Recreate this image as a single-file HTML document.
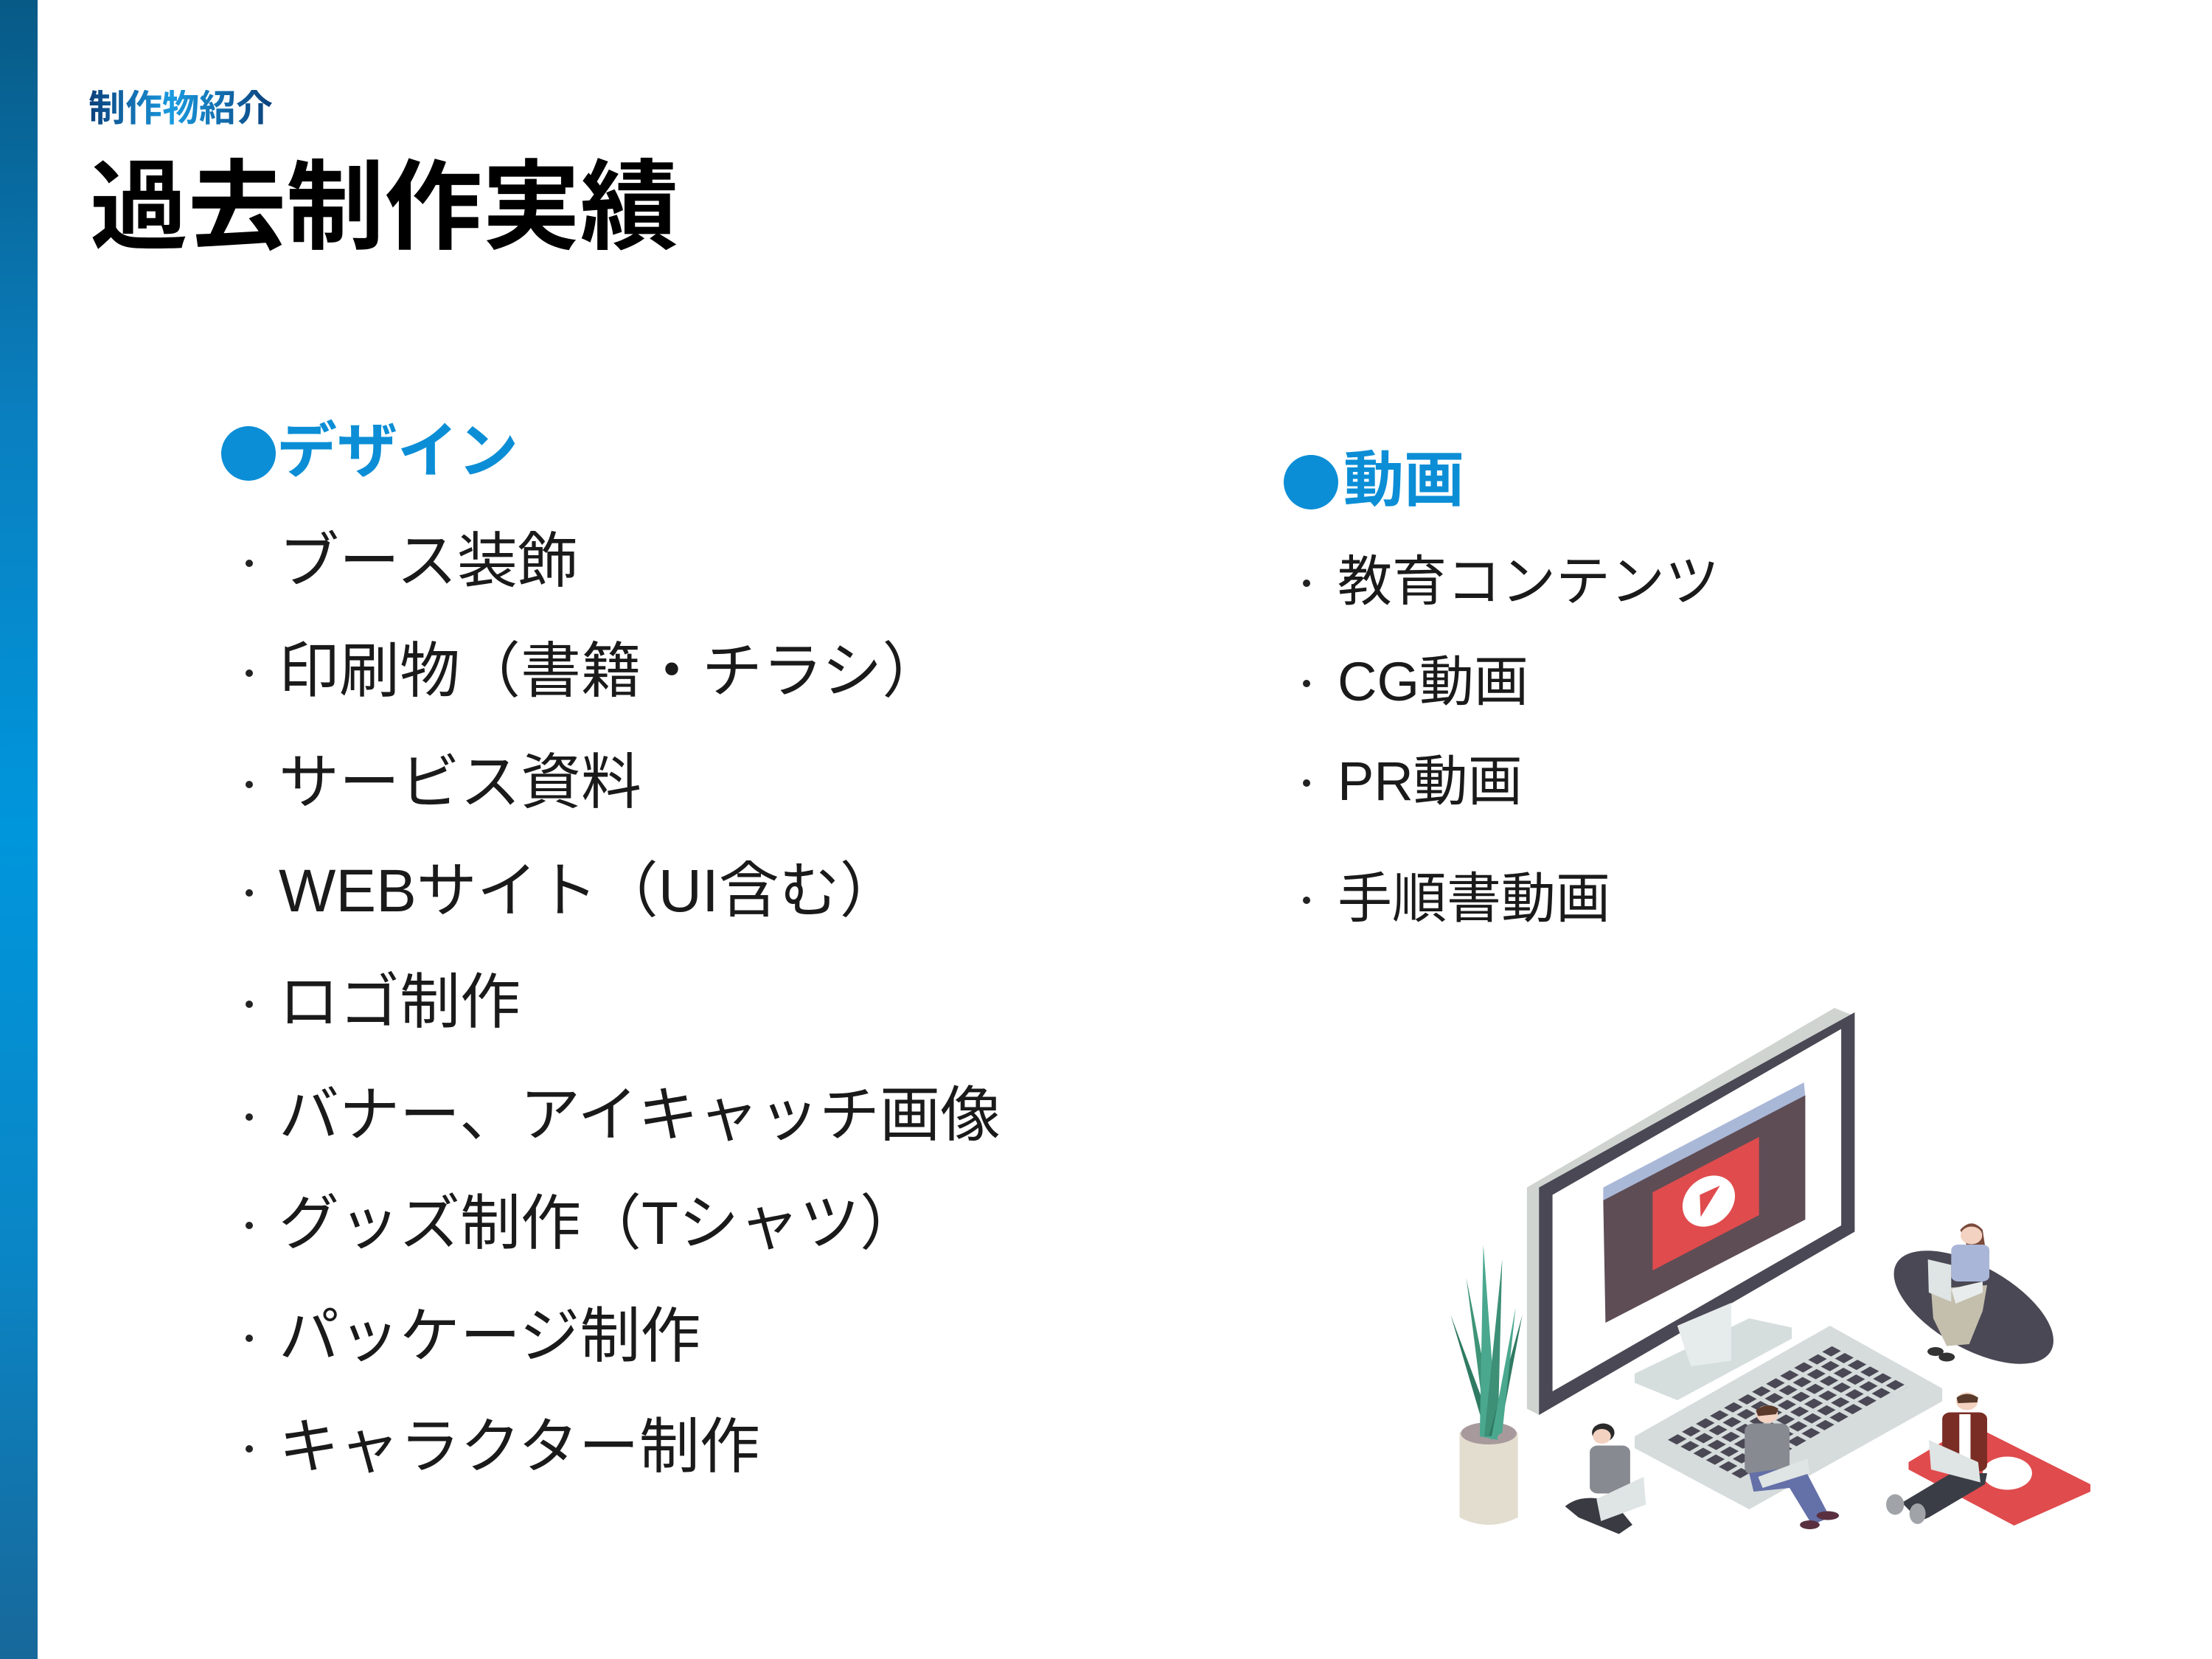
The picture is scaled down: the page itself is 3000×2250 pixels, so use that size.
<!DOCTYPE html>
<html><head><meta charset="utf-8"><style>
html,body{margin:0;padding:0;}
body{width:3000px;height:2250px;position:relative;background:#fff;overflow:hidden;font-family:"Liberation Sans","Noto Sans CJK JP",sans-serif;}
.bar{position:absolute;left:0;top:0;width:51px;height:2250px;background:linear-gradient(180deg,#075a86 0%,#0a7fbf 25%,#0096dc 50%,#0a86c6 75%,#17689a 100%);}
.t{position:absolute;white-space:nowrap;line-height:1;}
.sub{left:120px;top:122px;font-size:50px;font-weight:bold;background:linear-gradient(90deg,#0b3f7a 0%,#1a9be0 45%,#0b3f7a 100%);-webkit-background-clip:text;background-clip:text;color:transparent;}
.title{left:122px;top:216px;font-size:133px;font-weight:bold;color:#000;}
.h{font-weight:bold;color:#0b8ed6;font-size:82px;}
.dot{position:absolute;border-radius:50%;background:#0b8ed6;}
.li{font-size:82px;color:#1a1a1a;}
.ri{font-size:74px;color:#1a1a1a;}
.b{position:absolute;width:10px;height:10px;border-radius:50%;background:#222;}
</style></head><body>
<div class="bar"></div>
<div class="t sub">制作物紹介</div>
<div class="t title">過去制作実績</div>

<div class="dot" style="left:300px;top:578px;width:74px;height:74px;"></div>
<div class="t h" style="left:375px;top:572px;">デザイン</div>

<div class="b" style="left:333px;top:759px"></div><div class="t li" style="left:378px;top:721px">ブース装飾</div>
<div class="b" style="left:333px;top:908px"></div><div class="t li" style="left:378px;top:870px">印刷物（書籍・チラシ）</div>
<div class="b" style="left:333px;top:1059px"></div><div class="t li" style="left:378px;top:1021px">サービス資料</div>
<div class="b" style="left:333px;top:1206px"></div><div class="t li" style="left:378px;top:1168px">WEBサイト（UI含む）</div>
<div class="b" style="left:333px;top:1357px"></div><div class="t li" style="left:378px;top:1319px">ロゴ制作</div>
<div class="b" style="left:333px;top:1510px"></div><div class="t li" style="left:378px;top:1472px">バナー、アイキャッチ画像</div>
<div class="b" style="left:333px;top:1657px"></div><div class="t li" style="left:378px;top:1619px">グッズ制作（Tシャツ）</div>
<div class="b" style="left:333px;top:1810px"></div><div class="t li" style="left:378px;top:1772px">パッケージ制作</div>
<div class="b" style="left:333px;top:1960px"></div><div class="t li" style="left:378px;top:1922px">キャラクター制作</div>

<div class="dot" style="left:1741px;top:617px;width:74px;height:74px;"></div>
<div class="t h" style="left:1822px;top:611px;">動画</div>
<div class="b" style="left:1767px;top:786px"></div><div class="t ri" style="left:1814px;top:752px">教育コンテンツ</div>
<div class="b" style="left:1767px;top:922px"></div><div class="t ri" style="left:1814px;top:888px">CG動画</div>
<div class="b" style="left:1767px;top:1057px"></div><div class="t ri" style="left:1814px;top:1023px">PR動画</div>
<div class="b" style="left:1767px;top:1216px"></div><div class="t ri" style="left:1814px;top:1182px">手順書動画</div>

<svg style="position:absolute;left:1946px;top:1348px" width="950" height="780" viewBox="0 0 1560 1560" preserveAspectRatio="none">
<defs>
<pattern id="k" patternUnits="userSpaceOnUse" width="10" height="10" patternTransform="matrix(3.125,-2.17,2.83,1.83,510,1210)">
<rect x="1.5" y="1.5" width="7" height="7" fill="#4a4854"/></pattern>
</defs>
<polygon points="205,525 890,38 935,60 935,640 232,1142 205,1125" fill="#cfd4d1"/>
<polygon points="232,525 935,50 935,645 232,1142" fill="#4a4854"/>
<polygon points="262,545 905,95 905,628 262,1078" fill="#fff"/>
<polygon points="375,525 822,240 825,278 375,562" fill="#aab8d8"/>
<polygon points="375,560 825,275 825,612 380,892" fill="#5e4d55"/>
<polygon points="485,538 722,388 722,600 485,750" fill="#e04b4d"/>
<ellipse cx="610" cy="562" rx="55" ry="72" transform="rotate(25 610 562)" fill="#fff"/>
<polygon points="590,545 635,520 592,605" fill="#e04b4d"/>
<polygon points="445,1030 700,880 795,905 795,935 540,1102 445,1055" fill="#d5dddd"/>
<polygon points="540,900 660,838 660,995 570,1010" fill="#e6ebeb"/>
<polygon points="445,1200 880,900 1130,1070 1130,1105 700,1398 445,1232" fill="#d6dcdc"/>
<polygon points="510,1210 885,950 1055,1065 680,1322" fill="url(#k)"/>
<path d="M55,1190 Q120,1150 185,1190 L185,1420 Q120,1460 55,1420 Z" fill="#e3ddd0"/>
<ellipse cx="120" cy="1192" rx="62" ry="30" fill="#a89a9c"/>
<polygon points="35,870 110,1180 130,1180" fill="#2f7a62"/>
<polygon points="70,770 115,1200 140,1200" fill="#3f9478"/>
<polygon points="108,680 100,1200 140,1210" fill="#4aa88f"/>
<polygon points="150,720 110,1200 140,1200" fill="#3d8f76"/>
<polygon points="195,870 120,1200 145,1190" fill="#2f7a62"/>
<polygon points="180,850 125,1210 150,1190" fill="#4aa88f"/>
<ellipse cx="1200" cy="850" rx="210" ry="105" transform="rotate(38 1200 850)" fill="#4a4854"/>
<polygon points="1055,1270 1195,1168 1460,1330 1460,1350 1290,1442 1055,1290" fill="#e04b4d"/>
<ellipse cx="1275" cy="1300" rx="55" ry="45" fill="#fff"/>
<path d="M1170,640 Q1195,605 1220,640 L1232,740 L1205,740 Z" fill="#7a4a3a"/>
<circle cx="1195" cy="655" r="24" fill="#f3d2c2"/>
<rect x="1150" y="680" width="85" height="100" rx="15" fill="#a9b6d8"/>
<polygon points="1105,800 1230,790 1220,860 1190,950 1140,955 1110,880" fill="#c4bfad"/>
<polygon points="1098,720 1150,735 1150,835 1100,810" fill="#dfe4e4"/>
<polygon points="1150,800 1220,780 1220,810 1160,840" fill="#e8ecec"/>
<ellipse cx="1115" cy="970" rx="18" ry="12" fill="#333"/><ellipse cx="1140" cy="985" rx="18" ry="12" fill="#333"/>
<circle cx="375" cy="1190" r="25" fill="#2a2a2a"/>
<circle cx="372" cy="1200" r="20" fill="#f3d2c2"/>
<rect x="345" y="1225" width="90" height="130" rx="18" fill="#888a92"/>
<path d="M290,1390 Q330,1350 400,1380 L440,1440 L410,1465 L320,1420 Z" fill="#3a3a42"/>
<polygon points="360,1370 465,1310 470,1385 370,1430" fill="#dfe4e4"/>
<circle cx="740" cy="1140" r="24" fill="#f3d2c2"/>
<path d="M715,1130 Q740,1105 765,1125 L760,1140 L720,1145 Z" fill="#5a3a2a"/>
<rect x="690" y="1165" width="100" height="140" rx="20" fill="#888a92"/>
<polygon points="700,1300 820,1280 880,1420 840,1440 790,1340 710,1350" fill="#6470a8"/>
<polygon points="720,1310 830,1260 835,1300 730,1340" fill="#dfe4e4"/>
<ellipse cx="875" cy="1415" rx="25" ry="12" fill="#5a3040"/><ellipse cx="835" cy="1440" rx="22" ry="12" fill="#5a3040"/>
<circle cx="1185" cy="1105" r="24" fill="#f3d2c2"/>
<path d="M1162,1095 Q1185,1075 1210,1095 L1208,1108 L1165,1110 Z" fill="#5a3a2a"/>
<rect x="1130" y="1135" width="100" height="160" rx="18" fill="#7a2d25"/>
<rect x="1168" y="1140" width="25" height="120" fill="#fff"/>
<polygon points="1040,1380 1150,1300 1230,1300 1225,1330 1100,1420 1080,1430" fill="#3a3d45"/>
<polygon points="1100,1210 1210,1270 1215,1325 1105,1290" fill="#dfe4e4"/>
<ellipse cx="1025" cy="1385" rx="20" ry="28" fill="#a0a4a8"/><ellipse cx="1075" cy="1410" rx="18" ry="28" fill="#a0a4a8"/>
</svg>
</body></html>
